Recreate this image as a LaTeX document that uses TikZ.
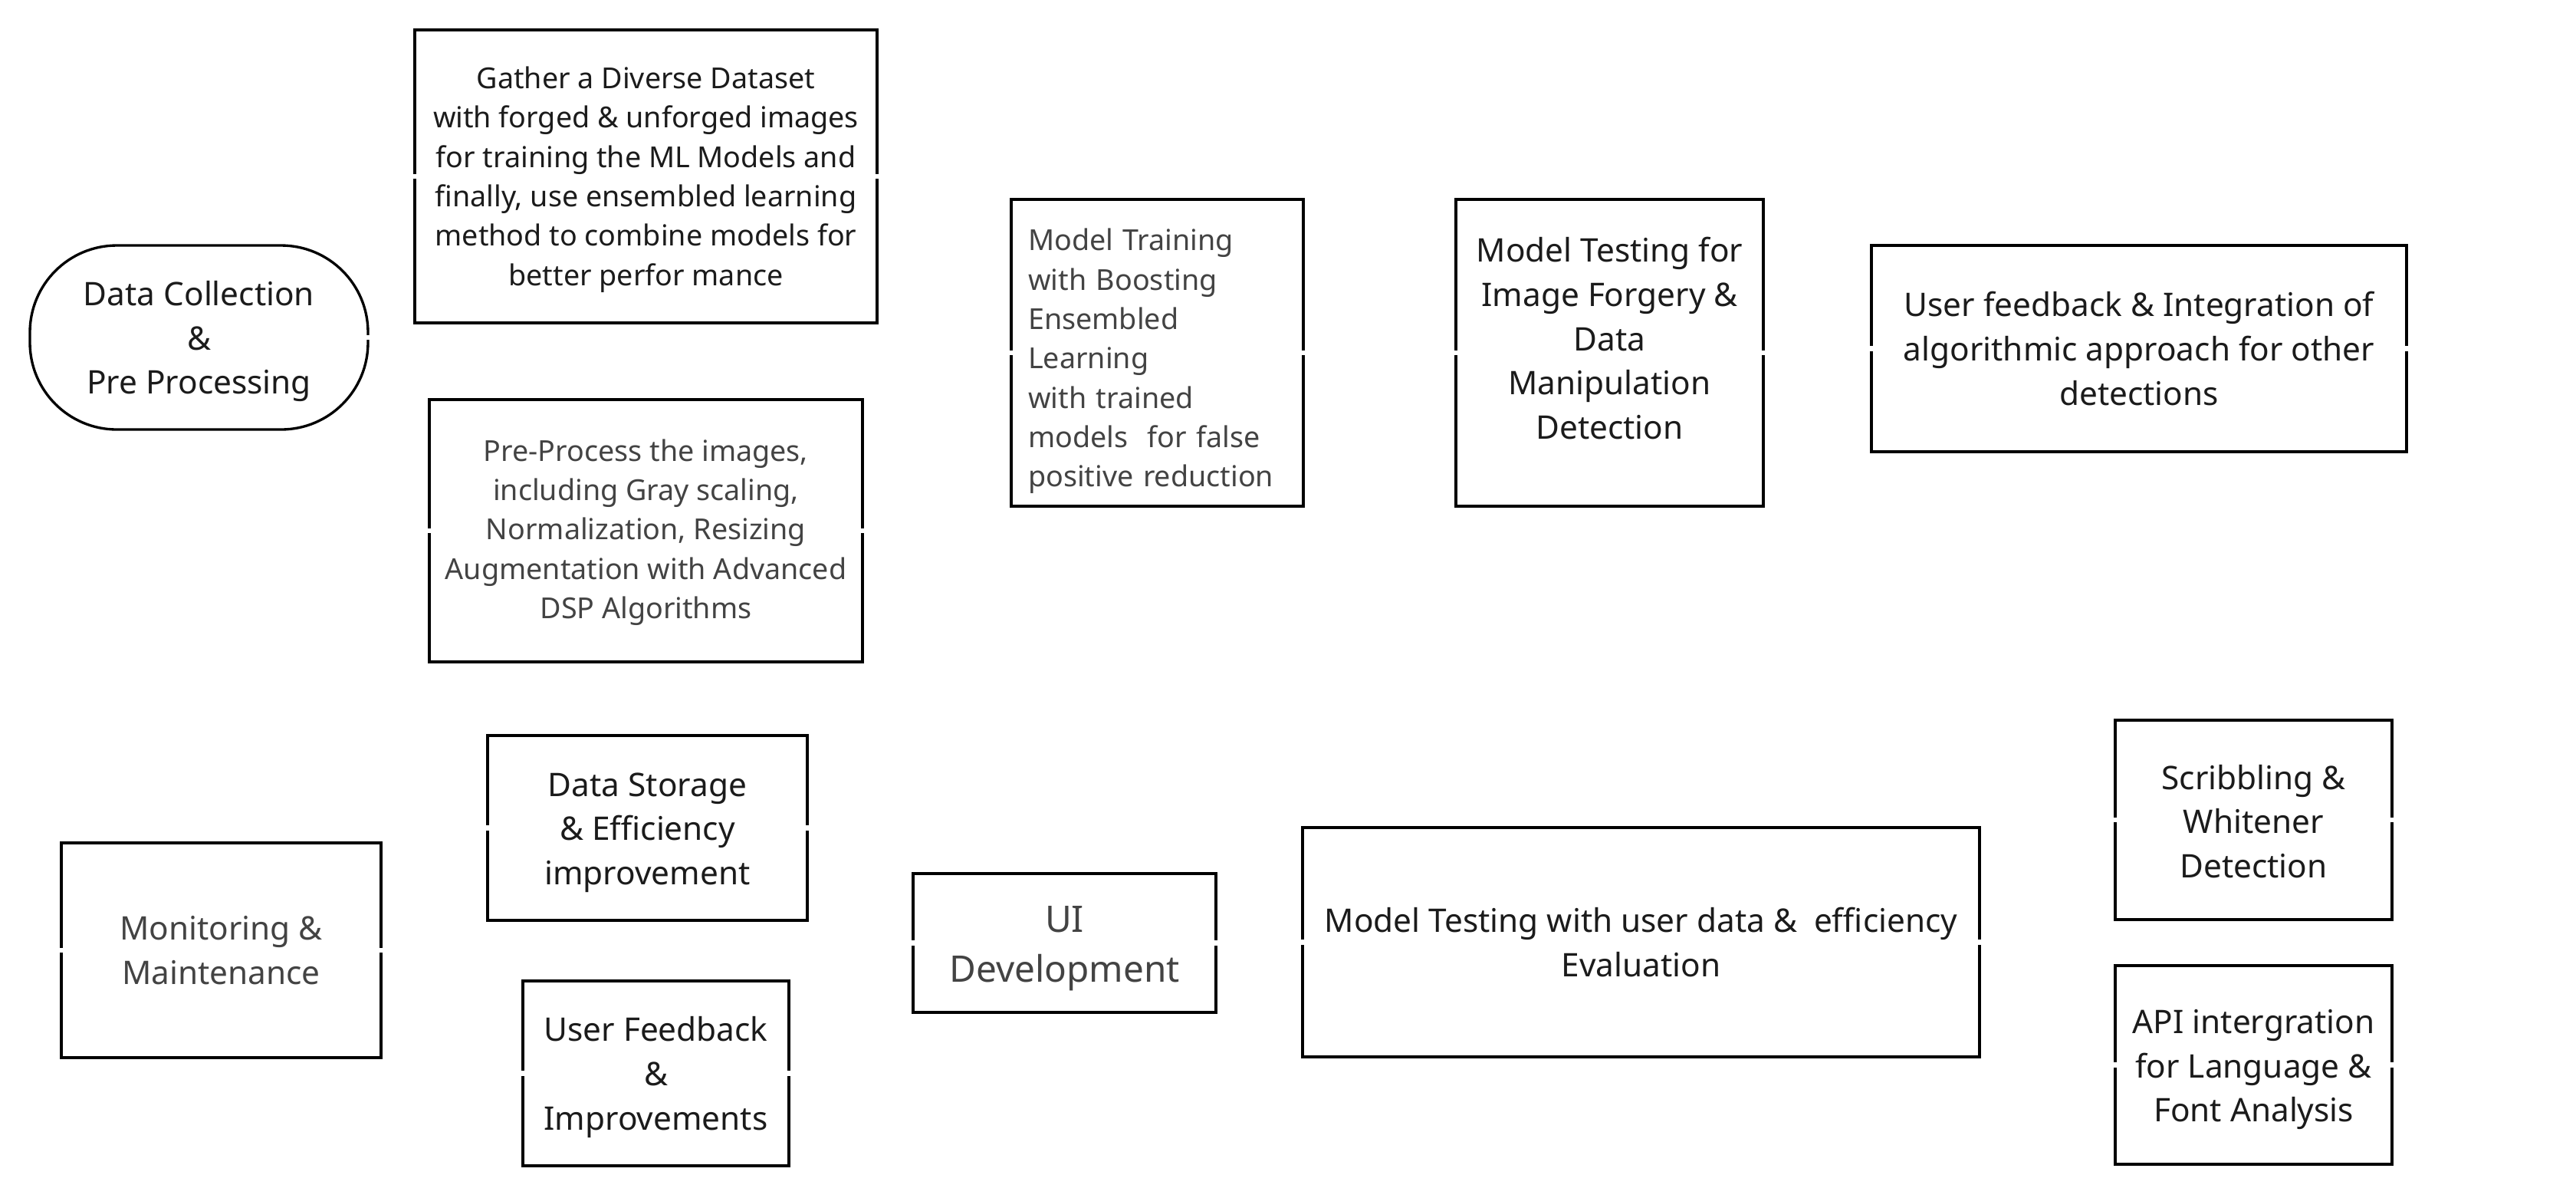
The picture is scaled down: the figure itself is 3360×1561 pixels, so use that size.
\documentclass[tikz,border=0pt]{standalone}
\usepackage{fontspec}
\setmainfont{Noto Sans}
\usetikzlibrary{calc}
\definecolor{txtgray}{HTML}{434343}
\definecolor{txtblack}{HTML}{1B1B1B}
\begin{document}
\begin{tikzpicture}[x=0.3pt,y=-0.3pt,
  box/.style={draw, line width=1pt, inner sep=0pt},
  lbl/.style={inner sep=0pt, align=center, text=txtblack},
  sm/.style={font=\fontsize{11.3pt}{15.4pt}\selectfont},
  lg/.style={font=\fontsize{12.7pt}{17.3pt}\selectfont},
  xl/.style={font=\fontsize{14.3pt}{19.5pt}\selectfont},
  greytext/.style={text=txtgray},
  notch/.style={fill=white, draw=none}]
\fill[white] (0,0) rectangle (3360,1561);
\useasboundingbox (0,0) rectangle (3360,1561);

% ---------- boxes ----------
\node[box, rounded corners=34pt, minimum width=132.3pt, minimum height=72pt] (dc) at (259.5,440) {};
\node[box, minimum width=180.9pt, minimum height=114.6pt] (gather) at (842.5,230) {};
\node[box, minimum width=169.5pt, minimum height=102.6pt] (pre) at (842.5,692) {};
\node[box, minimum width=114.3pt, minimum height=120pt] (train) at (1509.5,460) {};
\node[box, minimum width=120.3pt, minimum height=120pt] (mtf) at (2099.5,460) {};
\node[box, minimum width=209.4pt, minimum height=80.7pt] (ufi) at (2790,454.5) {};
\node[box, minimum width=125.1pt, minimum height=84pt] (mon) at (288.5,1239) {};
\node[box, minimum width=125.1pt, minimum height=72.3pt] (store) at (844.5,1079.5) {};
\node[box, minimum width=104.1pt, minimum height=72.3pt] (ufb) at (855.5,1399.5) {};
\node[box, minimum width=118.5pt, minimum height=54.3pt] (ui) at (1388.5,1229.5) {};
\node[box, minimum width=264.9pt, minimum height=89.7pt] (mtu) at (2140.5,1228.5) {};
\node[box, minimum width=108.3pt, minimum height=78pt] (scr) at (2939.5,1069) {};
\node[box, minimum width=108.3pt, minimum height=77.7pt] (api) at (2939.5,1388.5) {};

% ---------- texts ----------
\node[lbl, lg] (dc-t) at ([yshift=-1.5pt]dc.center)
  {Data Collection\\\&\\Pre Processing};
\node[lbl, sm] (gather-t) at ([yshift=-1.2pt]gather.center)
  {Gather a Diverse Dataset\\with forged \& unforged images\\for training the ML Models and\\finally, use ensembled learning\\method to combine models for\\better perfor mance};
\node[lbl, sm, greytext] (pre-t) at ([yshift=-0.6pt]pre.center)
  {Pre-Process the images,\\including Gray scaling,\\Normalization, Resizing\\Augmentation with Advanced\\DSP Algorithms};
\node[lbl, sm, greytext, align=left, text width=101pt] (train-t) at ([yshift=-3.3pt]train.center)
  {Model Training\\with Boosting\\Ensembled\\Learning\\with trained\\models\ \ for false\\positive reduction};
\node[lbl, lg] (mtf-t) at ([yshift=5.7pt]mtf.center)
  {Model Testing for\\Image Forgery \&\\Data\\Manipulation\\Detection};
\node[lbl, lg] (ufi-t) at (ufi.center)
  {User feedback \& Integration of\\algorithmic approach for other\\detections};
\node[lbl, lg, greytext] (mon-t) at (mon.center)
  {Monitoring \&\\Maintenance};
\node[lbl, lg] (store-t) at ([yshift=-1.8pt]store.center)
  {Data Storage\\\& Efficiency\\improvement};
\node[lbl, lg] (ufb-t) at ([yshift=-1.5pt]ufb.center)
  {User Feedback\\\&\\Improvements};
\node[lbl, xl, greytext] (ui-t) at ([yshift=-2.1pt]ui.center)
  {UI\\Development};
\node[lbl, lg] (mtu-t) at (mtu.center)
  {Model Testing with user data \&\ \ efficiency\\Evaluation};
\node[lbl, lg] (scr-t) at ([yshift=-0.6pt]scr.center)
  {Scribbling \&\\Whitener\\Detection};
\node[lbl, lg] (api-t) at ([yshift=-1.8pt]api.center)
  {API intergration\\for Language \&\\Font Analysis};

% ---------- small connection-point gaps on the side edges ----------
\foreach \n in {gather,pre,train,mtf,ufi,mon,store,ufb,ui,mtu,scr,api}{
  \fill[notch] ([xshift=-1pt,yshift=-1pt]\n.west) rectangle ([xshift=2pt,yshift=1pt]\n.west);
  \fill[notch] ([xshift=-2pt,yshift=-1pt]\n.east) rectangle ([xshift=1pt,yshift=1pt]\n.east);
}
\fill[notch] ([xshift=-2pt,yshift=-1pt]dc.east) rectangle ([xshift=1pt,yshift=1pt]dc.east);
\end{tikzpicture}
\end{document}
